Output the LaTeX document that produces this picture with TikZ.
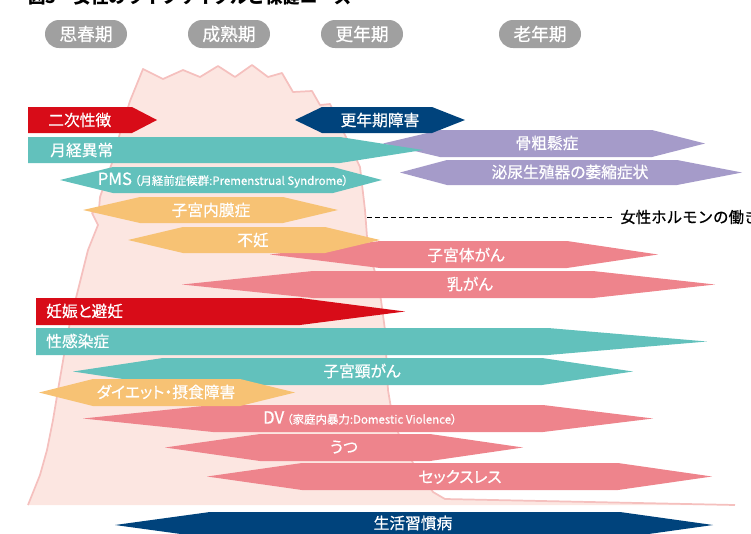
\documentclass[tikz,border=0pt]{standalone}
\usepackage{fontspec}
\setmainfont{Noto Sans CJK JP}
\newfontfamily\cjk[FakeBold=0.6]{Noto Sans CJK JP}
\newfontfamily\cjkp[FakeBold=0.6,RawFeature=+palt]{Noto Sans CJK JP}
\newfontfamily\cjkt{Noto Sans CJK JP}
\definecolor{cred}{HTML}{D80C18}
\definecolor{cnavy}{HTML}{00437C}
\definecolor{cteal}{HTML}{62C1BC}
\definecolor{cpurple}{HTML}{A59BC9}
\definecolor{corange}{HTML}{F7C274}
\definecolor{cpink}{HTML}{EE848C}
\definecolor{cpill}{HTML}{A0A0A0}
\definecolor{cmfill}{HTML}{FCE6E1}
\definecolor{cmline}{HTML}{F5C0BE}
% color, left tip x, left flat x, right flat x, right tip x, top y, bottom y
\newcommand\barshape[7]{\fill[#1] (#2,{(#6+#7)/2}) -- (#3,#6) -- (#4,#6) -- (#5,{(#6+#7)/2}) -- (#4,#7) -- (#3,#7) -- cycle;}
\tikzset{
  pill/.style={fill=cpill, text=white, rounded corners=10.5pt, minimum width=61.5pt, minimum height=21pt, inner sep=0pt, font=\cjk\fontsize{13.3}{15}\selectfont},
  bartext/.style={text=white, inner sep=0pt, font=\cjkp\fontsize{11.8}{13}\selectfont},
}
\newcommand\smallpart{\fontsize{8.6}{10}\selectfont}
\begin{document}
\begin{tikzpicture}[x=0.75pt,y=-0.75pt]
\useasboundingbox (0,0) rectangle (751,533);
\clip (0,0) rectangle (751,533);
% title (cut off at top)
\node[anchor=base west, inner sep=0pt, font=\cjkt\bfseries\fontsize{13.1}{15}\selectfont] (title) at (28,3) {図3　女性のライフサイクルと保健ニーズ};
% stage pills
\node[pill] (p1) at (86,34) {思春期};
\node[pill] (p2) at (229,34) {成熟期};
\node[pill] (p3) at (362,34) {更年期};
\node[pill] (p4) at (540,34) {老年期};
% background mountain
\fill[cmfill] (28,505) -- (34,490) -- (40,475) -- (47,450) -- (53,420) -- (58,390) -- (64,355) -- (70,322) -- (78,290) -- (88,250) -- (98,225) -- (92,213) -- (99,209) -- (100,197) -- (113,160) -- (120,133) -- (130,101) -- (143,69) -- (163,79) -- (183,70) -- (200,77) -- (218,66) -- (235,77) -- (252,65) -- (268,77) -- (282,73) -- (293,92) -- (312,91) -- (320,105) -- (330,104) -- (345,135) -- (360,167) -- (365,210) -- (368,250) -- (375,272) -- (381,300) -- (385,330) -- (388,390) -- (393,420) -- (400,437) -- (413,463) -- (433,492) -- (445,499) -- (735,505) -- cycle;
\draw[cmline, line width=1.3pt, line join=round] (28,505) -- (34,490) -- (40,475) -- (47,450) -- (53,420) -- (58,390) -- (64,355) -- (70,322) -- (78,290) -- (88,250) -- (98,225) -- (92,213) -- (99,209) -- (100,197) -- (113,160) -- (120,133) -- (130,101) -- (143,69) -- (163,79) -- (183,70) -- (200,77) -- (218,66) -- (235,77) -- (252,65) -- (268,77) -- (282,73) -- (293,92) -- (312,91) -- (320,105) -- (330,104) -- (345,135) -- (360,167) -- (365,210) -- (368,250) -- (375,272) -- (381,300) -- (385,330) -- (388,390) -- (393,420) -- (400,437) -- (413,463) -- (433,492) -- (445,499) -- (735,505);
% bars
\barshape{cpurple}{383}{440}{652}{705}{130}{157}
\barshape{cpurple}{400}{447}{677}{742}{160}{185}
\barshape{cnavy}{295}{322}{432}{465}{107}{133}
\barshape{cred}{28}{28}{132}{157}{107}{133}
\barshape{cteal}{28}{28}{340}{423}{137}{163}
\barshape{cteal}{60}{113}{333}{382}{167}{193}
\barshape{corange}{83}{140}{283}{338}{197}{223}
\barshape{cpink}{270}{380}{567}{658}{241}{268}
\barshape{corange}{128}{183}{325}{380}{227}{253}
\barshape{cpink}{182}{313}{593}{715}{271}{298}
\barshape{cred}{36}{36}{300}{405}{298}{325}
\barshape{cteal}{36}{36}{548}{707}{328}{355}
\barshape{cteal}{73}{163}{542}{633}{358}{385}
\barshape{cpink}{83}{213}{543}{653}{405}{432}
\barshape{corange}{39}{93}{240}{295}{379}{406}
\barshape{cpink}{165}{260}{430}{523}{434}{461}
\barshape{cpink}{207}{302}{618}{712}{463}{490}
\barshape{cnavy}{115}{210}{620}{713}{512}{538}
% labels
\node[bartext, anchor=west] (t1) at (48,120) {二次性徴};
\node[bartext] (t2) at (380,120) {更年期障害};
\node[bartext] (t3) at (547,143) {骨粗鬆症};
\node[bartext, anchor=west] (t4) at (50,150) {月経異常};
\node[bartext] (t5) at (570,172) {泌尿生殖器の萎縮症状};
\node[bartext] (t6) at (223,180) {{\fontsize{12.6}{13}\selectfont PMS}\hspace{2pt}{\smallpart（月経前症候群:Premenstrual Syndrome）}};
\node[bartext] (t7) at (211,210) {子宮内膜症};
\node[bartext] (t8) at (253,240) {不妊};
\node[bartext] (t9) at (466,255) {子宮体がん};
\node[bartext] (t10) at (470,284) {乳がん};
\node[bartext, anchor=west] (t11) at (46,311) {妊娠と避妊};
\node[bartext, anchor=west] (t12) at (46,341) {性感染症};
\node[bartext] (t13) at (362,371) {子宮頸がん};
\node[bartext] (t14) at (166,392) {ダイエット・摂食障害};
\node[bartext] (t15) at (360,418) {{\fontsize{12.6}{13}\selectfont DV}\hspace{2pt}{\smallpart（家庭内暴力:Domestic Violence）}};
\node[bartext] (t16) at (344,447) {うつ};
\node[bartext] (t17) at (460,477) {セックスレス};
\node[bartext] (t18) at (413,523) {生活習慣病};
% hormone line
\node[anchor=west, inner sep=0pt, font=\cjk\fontsize{11.6}{13}\selectfont] (horm) at (620,217) {女性ホルモンの働き};
\coordinate (hstart) at (367,217);
\draw[dash pattern=on 3.5pt off 2.5pt, line width=0.7pt] (hstart) -- ([xshift=-6pt]horm.west);
\end{tikzpicture}
\end{document}
